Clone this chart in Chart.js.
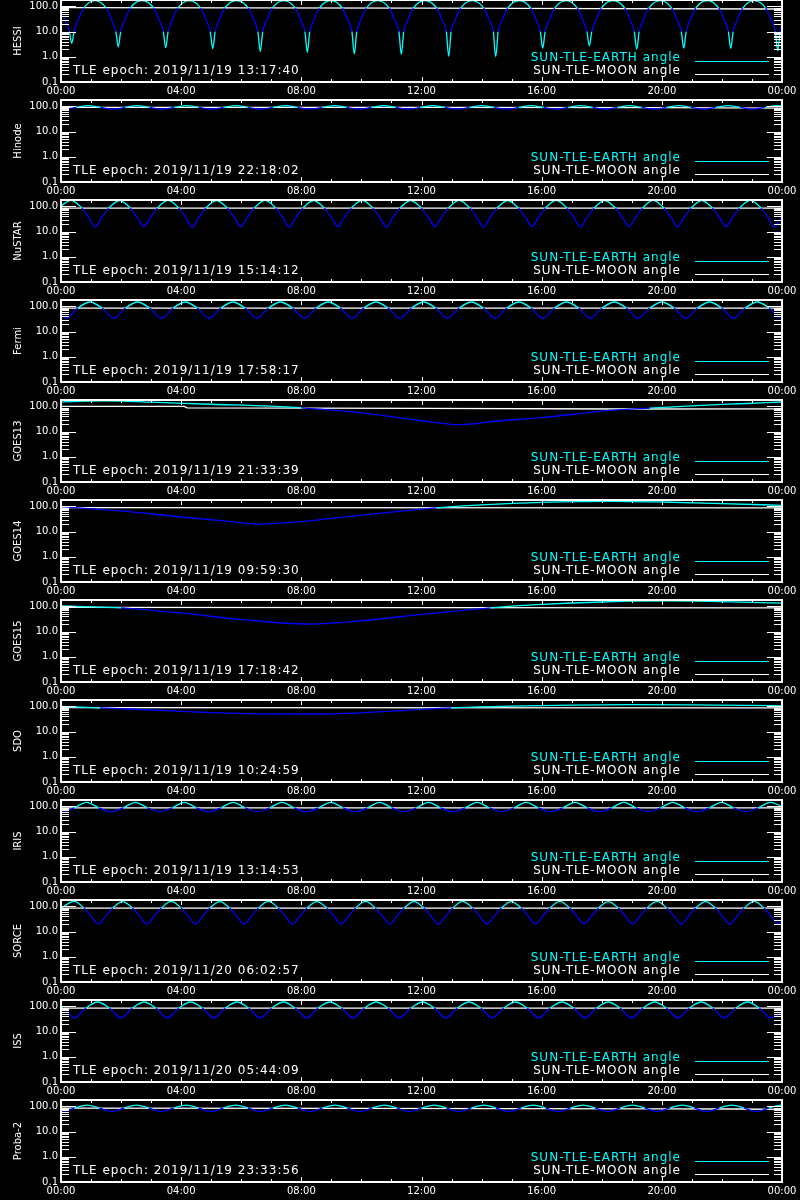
<!DOCTYPE html>
<html>
<head>
<meta charset="utf-8">
<script src="https://cdn.jsdelivr.net/npm/chart.js@4.4.0/dist/chart.umd.min.js"></script>
<style>
  body { margin: 0; background: #000; width: 800px; height: 1200px; overflow: hidden; position: relative; }
  canvas { position: absolute; left: 0; }
</style>
</head>
<body>
<script>
// axis ticks (hours since 00:00, log y)
const hourTicks = [0, 4, 8, 12, 16, 20, 24];
const hourLabels = ['00:00', '04:00', '08:00', '12:00', '16:00', '20:00', '00:00'];
const hourMinor = [1, 2, 3, 4, 5, 6, 7, 8, 9, 10, 11, 12, 13, 14, 15, 16, 17, 18, 19, 20, 21, 22, 23];
const yTicks = [0.1, 1, 10, 100];
const yLabels = ['0.1', '1.0', '10.0', '100.0'];
const yMajor = [1, 10, 100];
const yMinor = [0.2, 0.3, 0.4, 0.5, 0.6, 0.7, 0.8, 0.9, 2, 3, 4, 5, 6, 7, 8, 9, 20, 30, 40, 50, 60, 70, 80, 90];

const names = ['HESSI', 'Hinode', 'NuSTAR', 'Fermi', 'GOES13', 'GOES14', 'GOES15', 'SDO', 'IRIS', 'SORCE', 'ISS', 'Proba-2'];
const epochs = ['2019/11/19 13:17:40', '2019/11/19 22:18:02', '2019/11/19 15:14:12', '2019/11/19 17:58:17',
  '2019/11/19 21:33:39', '2019/11/19 09:59:30', '2019/11/19 17:18:42', '2019/11/19 10:24:59',
  '2019/11/19 13:14:53', '2019/11/20 06:02:57', '2019/11/20 05:44:09', '2019/11/19 23:33:56'];
// earth curve turns cyan above this
const thresholds = [86, 91, 86, 86, 86, 88, 88, 88, 88, 86, 86, 86];

// SUN-TLE-EARTH angle, per satellite
const hessiT = [0, 0.156, 0.276, 0.356, 0.436, 0.556, 0.756,
  1.132, 1.507, 1.707, 1.827, 1.907, 1.987, 2.107, 2.307,
  2.696, 3.085, 3.285, 3.405, 3.485, 3.565, 3.685, 3.885,
  4.268, 4.650, 4.850, 4.970, 5.050, 5.130, 5.250, 5.450,
  5.842, 6.234, 6.434, 6.554, 6.634, 6.714, 6.834, 7.034,
  7.417, 7.799, 7.999, 8.119, 8.199, 8.279, 8.399, 8.599,
  8.982, 9.364, 9.564, 9.684, 9.764, 9.844, 9.964, 10.164,
  10.546, 10.928, 11.128, 11.248, 11.328, 11.408, 11.528, 11.728,
  12.117, 12.506, 12.706, 12.826, 12.906, 12.986, 13.106, 13.306,
  13.689, 14.071, 14.271, 14.391, 14.471, 14.551, 14.671, 14.871,
  15.253, 15.635, 15.835, 15.955, 16.035, 16.115, 16.235, 16.435,
  16.811, 17.187, 17.387, 17.507, 17.587, 17.667, 17.787, 17.987,
  18.376, 18.765, 18.965, 19.085, 19.165, 19.245, 19.365, 19.565,
  19.947, 20.329, 20.529, 20.649, 20.729, 20.809, 20.929, 21.129,
  21.512, 21.894, 22.094, 22.214, 22.294, 22.374, 22.494, 22.694,
  23.076, 23.458, 23.658, 23.778, 23.858, 23.938, 24];
const hessiV = [72, 26, 10, 3.4, 10, 26, 86,
  170, 86, 26, 10, 2.5, 10, 26, 86,
  172, 86, 26, 10, 2.3, 10, 26, 86,
  170, 86, 26, 10, 2.1, 10, 26, 86,
  172, 86, 26, 10, 1.6, 10, 26, 86,
  170, 86, 26, 10, 1.5, 10, 26, 86,
  172, 86, 26, 10, 1.3, 10, 26, 86,
  170, 86, 26, 10, 1.25, 10, 26, 86,
  172, 86, 26, 10, 1.05, 10, 26, 86,
  170, 86, 26, 10, 1.0, 10, 26, 86,
  172, 86, 26, 10, 2.2, 10, 26, 86,
  170, 86, 26, 10, 2.7, 10, 26, 86,
  172, 86, 26, 10, 2.0, 10, 26, 86,
  170, 86, 26, 10, 2.2, 10, 26, 86,
  172, 86, 26, 10, 2.15, 10, 26, 86,
  170, 86, 26, 10, 1.7, 10, 24];

const hinodeT = [0,
  0.090, 0.500, 0.909, 1.319, 1.728, 2.138, 2.547, 2.956,
  3.366, 3.776, 4.185, 4.594, 5.004, 5.414, 5.823, 6.232,
  6.642, 7.052, 7.461, 7.870, 8.280, 8.690, 9.099, 9.508,
  9.918, 10.328, 10.737, 11.146, 11.556, 11.966, 12.375, 12.784,
  13.194, 13.604, 14.013, 14.422, 14.832, 15.242, 15.651, 16.060,
  16.470, 16.880, 17.289, 17.698, 18.108, 18.518, 18.927, 19.336,
  19.746, 20.156, 20.565, 20.974, 21.384, 21.794, 22.203, 22.612,
  23.022, 23.432, 23.841, 24];
const hinodeV = [79.5,
  79, 91, 108, 91, 79, 91, 108, 91,
  79, 91, 108, 91, 79, 91, 108, 91,
  79, 91, 108, 91, 79, 91, 108, 91,
  79, 91, 108, 91, 79, 91, 108, 91,
  79, 91, 108, 91, 79, 91, 108, 91,
  79, 91, 108, 91, 79, 91, 108, 91,
  79, 91, 108, 91, 79, 91, 108, 91,
  79, 91, 108, 104];

const nustarT = [0,
  0.333, 0.691, 0.941, 1.141, 1.341, 1.591,
  1.948, 2.306, 2.556, 2.756, 2.956, 3.206,
  3.563, 3.921, 4.171, 4.371, 4.571, 4.821,
  5.178, 5.536, 5.786, 5.986, 6.186, 6.436,
  6.793, 7.151, 7.401, 7.601, 7.801, 8.051,
  8.408, 8.766, 9.016, 9.216, 9.416, 9.666,
  10.023, 10.381, 10.631, 10.831, 11.031, 11.281,
  11.638, 11.996, 12.246, 12.446, 12.646, 12.896,
  13.253, 13.611, 13.861, 14.061, 14.261, 14.511,
  14.868, 15.226, 15.476, 15.676, 15.876, 16.126,
  16.483, 16.841, 17.091, 17.291, 17.491, 17.741,
  18.098, 18.456, 18.706, 18.906, 19.106, 19.356,
  19.713, 20.071, 20.321, 20.521, 20.721, 20.971,
  21.328, 21.686, 21.936, 22.136, 22.336, 22.586,
  22.943, 23.301, 23.551, 23.751, 23.951, 24];
const nustarV = [105,
  174, 86, 34, 15, 34, 86,
  172, 86, 34, 16, 34, 86,
  174, 86, 34, 15, 34, 86,
  172, 86, 34, 16, 34, 86,
  174, 86, 34, 15, 34, 86,
  172, 86, 34, 16, 34, 86,
  174, 86, 34, 15, 34, 86,
  172, 86, 34, 16, 34, 86,
  174, 86, 34, 15, 34, 86,
  172, 86, 34, 16, 34, 86,
  174, 86, 34, 15, 34, 86,
  172, 86, 34, 16, 34, 86,
  174, 86, 34, 15, 34, 86,
  172, 86, 34, 16, 34, 86,
  174, 86, 34, 15, 34, 42];

const fermiT = [0,
  0.17, 0.56, 0.963, 1.367, 1.757, 2.147, 2.550, 2.953,
  3.343, 3.733, 4.136, 4.540, 4.930, 5.320, 5.723, 6.126,
  6.516, 6.906, 7.309, 7.713, 8.103, 8.493, 8.896, 9.300,
  9.690, 10.080, 10.483, 10.886, 11.276, 11.666, 12.069, 12.473,
  12.863, 13.253, 13.656, 14.059, 14.449, 14.839, 15.242, 15.646,
  16.036, 16.426, 16.829, 17.232, 17.622, 18.012, 18.415, 18.819,
  19.209, 19.599, 20.002, 20.406, 20.796, 21.186, 21.589, 21.992,
  22.382, 22.772, 23.175, 23.579, 23.969, 24];
const fermiV = [48,
  34, 86, 150, 86, 34, 86, 150, 86,
  34, 86, 150, 86, 34, 86, 150, 86,
  34, 86, 150, 86, 34, 86, 150, 86,
  34, 86, 150, 86, 34, 86, 150, 86,
  34, 86, 150, 86, 34, 86, 150, 86,
  34, 86, 150, 86, 34, 86, 150, 86,
  34, 86, 150, 86, 34, 86, 150, 86,
  34, 86, 150, 86, 34, 35];

const goes13T = [0, 1.5, 3, 5, 7, 8, 10, 12, 13.3, 14.6, 16, 17.4, 18, 19.6, 21.3, 22.6, 24];
const goes13V = [152, 168, 148, 122, 102, 88, 56, 27, 19, 27, 36, 54, 65, 86, 110, 128, 150];

const goes14T = [0, 2, 4, 5.5, 6.6, 8, 10, 12, 12.5, 14, 16, 18.3, 20, 22, 24];
const goes14V = [98, 66, 38, 26, 20, 25, 45, 78, 88, 115, 145, 160, 150, 130, 110];

const goes15T = [0, 1, 2, 4, 6, 8.3, 10, 12, 14.3, 16, 18, 20.3, 22, 24];
const goes15V = [105, 96, 88, 55, 30, 20, 27, 48, 88, 120, 150, 165, 155, 135];

const sdoT = [0, 1.3, 3, 5, 6.5, 8.5, 10, 11.5, 13, 15, 17, 19, 21, 23, 24];
const sdoV = [100, 88, 72, 57, 51, 50, 56, 70, 88, 102, 112, 117, 116, 110, 106];

const irisT = [0,
  0.037, 0.44, 0.85, 1.26, 1.663, 2.07, 2.476, 2.88,
  3.289, 3.70, 4.102, 4.51, 4.915, 5.32, 5.728, 6.13,
  6.541, 6.95, 7.354, 7.76, 8.167, 8.57, 8.98, 9.39,
  9.793, 10.2, 10.606, 11.01, 11.419, 11.83, 12.232, 12.64,
  13.045, 13.45, 13.858, 14.26, 14.671, 15.08, 15.484, 15.89,
  16.297, 16.7, 17.11, 17.52, 17.923, 18.33, 18.736, 19.14,
  19.549, 19.96, 20.362, 20.77, 21.175, 21.58, 21.988, 22.39,
  22.801, 23.21, 23.614, 24];
const irisV = [64,
  62, 88, 145, 88, 62, 88, 145, 88,
  62, 88, 145, 88, 62, 88, 145, 88,
  62, 88, 145, 88, 62, 88, 145, 88,
  62, 88, 145, 88, 62, 88, 145, 88,
  62, 88, 145, 88, 62, 88, 145, 88,
  62, 88, 145, 88, 62, 88, 145, 88,
  62, 88, 145, 88, 62, 88, 145, 88,
  62, 88, 145, 100];

const sorceT = [0,
  0.434, 0.762, 0.992, 1.242, 1.492, 1.722,
  2.051, 2.379, 2.609, 2.859, 3.109, 3.339,
  3.668, 3.996, 4.226, 4.476, 4.726, 4.956,
  5.285, 5.613, 5.843, 6.093, 6.343, 6.573,
  6.902, 7.230, 7.460, 7.710, 7.960, 8.190,
  8.519, 8.847, 9.077, 9.327, 9.577, 9.807,
  10.136, 10.464, 10.694, 10.944, 11.194, 11.424,
  11.753, 12.081, 12.311, 12.561, 12.811, 13.041,
  13.370, 13.698, 13.928, 14.178, 14.428, 14.658,
  14.987, 15.315, 15.545, 15.795, 16.045, 16.275,
  16.604, 16.932, 17.162, 17.412, 17.662, 17.892,
  18.221, 18.549, 18.779, 19.029, 19.279, 19.509,
  19.838, 20.166, 20.396, 20.646, 20.896, 21.126,
  21.455, 21.783, 22.013, 22.263, 22.513, 22.743,
  23.072, 23.400, 23.630, 23.880, 24];
const sorceV = [86,
  158, 86, 42, 20, 42, 86,
  156, 86, 42, 20, 42, 86,
  158, 86, 42, 20, 42, 86,
  156, 86, 42, 20, 42, 86,
  158, 86, 42, 20, 42, 86,
  156, 86, 42, 20, 42, 86,
  158, 86, 42, 20, 42, 86,
  156, 86, 42, 20, 42, 86,
  158, 86, 42, 20, 42, 86,
  156, 86, 42, 20, 42, 86,
  158, 86, 42, 20, 42, 86,
  156, 86, 42, 20, 42, 86,
  158, 86, 42, 20, 42, 86,
  156, 86, 42, 20, 42, 86,
  158, 86, 42, 20, 30];

const issT = [0, 0.07,
  0.45, 0.83, 1.2225, 1.615, 1.995, 2.375, 2.7675, 3.16,
  3.54, 3.92, 4.3125, 4.705, 5.085, 5.465, 5.8575, 6.25,
  6.63, 7.01, 7.4025, 7.795, 8.175, 8.555, 8.9475, 9.34,
  9.72, 10.1, 10.4925, 10.885, 11.265, 11.645, 12.0375, 12.43,
  12.81, 13.19, 13.5825, 13.975, 14.355, 14.735, 15.1275, 15.52,
  15.9, 16.28, 16.6725, 17.065, 17.445, 17.825, 18.2175, 18.61,
  18.99, 19.37, 19.7625, 20.155, 20.535, 20.915, 21.3075, 21.7,
  22.08, 22.46, 22.8525, 23.245, 23.625, 24];
const issV = [92, 86,
  35, 86, 150, 86, 35, 86, 150, 86,
  35, 86, 150, 86, 35, 86, 150, 86,
  35, 86, 150, 86, 35, 86, 150, 86,
  35, 86, 150, 86, 35, 86, 150, 86,
  35, 86, 150, 86, 35, 86, 150, 86,
  35, 86, 150, 86, 35, 86, 150, 86,
  35, 86, 150, 86, 35, 86, 150, 86,
  35, 86, 150, 86, 35, 60];

const probaT = [0,
  0.037, 0.450, 0.863, 1.276, 1.688, 2.101, 2.514, 2.927,
  3.339, 3.752, 4.165, 4.578, 4.990, 5.403, 5.816, 6.229,
  6.641, 7.054, 7.467, 7.880, 8.292, 8.705, 9.118, 9.531,
  9.943, 10.356, 10.769, 11.182, 11.594, 12.007, 12.420, 12.833,
  13.245, 13.658, 14.071, 14.484, 14.896, 15.309, 15.722, 16.135,
  16.547, 16.960, 17.373, 17.786, 18.198, 18.611, 19.024, 19.437,
  19.849, 20.262, 20.675, 21.088, 21.500, 21.913, 22.326, 22.739,
  23.151, 23.564, 23.977, 24];
const probaV = [63,
  62, 86, 113, 86, 62, 86, 113, 86,
  62, 86, 113, 86, 62, 86, 113, 86,
  62, 86, 113, 86, 62, 86, 113, 86,
  62, 86, 113, 86, 62, 86, 113, 86,
  62, 86, 113, 86, 62, 86, 113, 86,
  62, 86, 113, 86, 62, 86, 113, 86,
  62, 86, 113, 86, 62, 86, 113, 86,
  62, 86, 113, 112];

// SUN-TLE-MOON angle, per satellite
const hessiMoonT = [0, 6, 12, 18, 24];
const hessiMoonV = [89, 87, 85, 82, 79];
const hinodeMoonT = [0, 12, 20, 24];
const hinodeMoonV = [91, 91, 90, 86];
const nustarMoonT = [0, 24];
const nustarMoonV = [86, 86];
const fermiMoonT = [0, 24];
const fermiMoonV = [86, 86];
const goes13MoonT = [0, 4.1, 4.2, 12, 18.8, 24];
const goes13MoonV = [100, 100, 87, 83, 79, 80];
const goes14MoonT = [0, 24];
const goes14MoonV = [90, 88];
const goes15MoonT = [0, 24];
const goes15MoonV = [92, 88];
const sdoMoonT = [0, 24];
const sdoMoonV = [90, 88];
const irisMoonT = [0, 24];
const irisMoonV = [88, 88];
const sorceMoonT = [0, 24];
const sorceMoonV = [86, 86];
const issMoonT = [0, 24];
const issMoonV = [86, 86];
const probaMoonT = [0, 10, 20, 22.5, 24];
const probaMoonV = [86, 83, 80, 79, 76];

const earthT = [hessiT, hinodeT, nustarT, fermiT, goes13T, goes14T, goes15T, sdoT, irisT, sorceT, issT, probaT];
const earthV = [hessiV, hinodeV, nustarV, fermiV, goes13V, goes14V, goes15V, sdoV, irisV, sorceV, issV, probaV];
const moonT = [hessiMoonT, hinodeMoonT, nustarMoonT, fermiMoonT, goes13MoonT, goes14MoonT, goes15MoonT, sdoMoonT, irisMoonT, sorceMoonT, issMoonT, probaMoonT];
const moonV = [hessiMoonV, hinodeMoonV, nustarMoonV, fermiMoonV, goes13MoonV, goes14MoonV, goes15MoonV, sdoMoonV, irisMoonV, sorceMoonV, issMoonV, probaMoonV];

const CYAN = '#00ffff';
const BLUE = '#0000ff';
const WHITE = '#ffffff';
const FONT = 'DejaVu Sans';

function toPts(t, v) {
  const n = Math.min(t.length, v.length);
  const out = [];
  for (let i = 0; i < n; i++) out.push({x: t[i], y: v[i]});
  return out;
}

// frame, inward ticks, legend and epoch text
const idlFrame = {
  id: 'idlFrame',
  afterDraw(chart, args, o) {
    const {ctx, chartArea: a, scales: {x, y}} = chart;
    ctx.save();
    ctx.strokeStyle = WHITE;
    ctx.lineWidth = 1;
    ctx.beginPath();
    const hl = (py, len) => {
      py = Math.round(py) + 0.5;
      ctx.moveTo(a.left, py); ctx.lineTo(a.left + len, py);
      ctx.moveTo(a.right, py); ctx.lineTo(a.right - len, py);
    };
    yMinor.forEach(v => hl(y.getPixelForValue(v), 8));
    yMajor.forEach(v => hl(y.getPixelForValue(v), 15));
    hourMinor.forEach(h => {
      const px = Math.round(x.getPixelForValue(h)) + 0.5;
      const len = h % 4 ? 3 : 5;
      ctx.moveTo(px, a.top); ctx.lineTo(px, a.top + len);
      ctx.moveTo(px, a.bottom); ctx.lineTo(px, a.bottom - len);
    });
    ctx.stroke();
    ctx.lineWidth = 2;
    ctx.strokeRect(a.left, a.top, a.right - a.left, a.bottom - a.top);

    ctx.font = '12px "' + FONT + '"';
    ctx.letterSpacing = '1px';
    ctx.textBaseline = 'middle';
    ctx.fillStyle = WHITE;
    ctx.textAlign = 'left';
    ctx.fillText('TLE epoch: ' + o.epoch, 73, a.top + 70.7);
    ctx.textAlign = 'right';
    ctx.fillStyle = CYAN;
    ctx.fillText('SUN-TLE-EARTH angle', 681, a.top + 57.7);
    ctx.fillStyle = WHITE;
    ctx.fillText('SUN-TLE-MOON angle', 681, a.top + 70.7);
    ctx.lineWidth = 1;
    ctx.strokeStyle = CYAN;
    ctx.beginPath(); ctx.moveTo(695, a.top + 61.5); ctx.lineTo(769, a.top + 61.5); ctx.stroke();
    ctx.strokeStyle = WHITE;
    ctx.beginPath(); ctx.moveTo(695, a.top + 74.5); ctx.lineTo(769, a.top + 74.5); ctx.stroke();
    ctx.restore();
  }
};

for (let k = 0; k < names.length; k++) {
  const cv = document.createElement('canvas');
  cv.width = 800; cv.height = 100;
  cv.style.top = (100 * k - 2) + 'px';
  document.body.appendChild(cv);
  const thr = thresholds[k];

  new Chart(cv, {
    type: 'line',
    data: {
      datasets: [
        {
          data: toPts(earthT[k], earthV[k]),
          borderColor: CYAN,
          borderWidth: 1.3,
          pointRadius: 0,
          cubicInterpolationMode: 'monotone',
          segment: {
            borderColor: c => {
              const lo = Math.min(c.p0.parsed.y, c.p1.parsed.y);
              return (lo >= thr || lo < 4) ? CYAN : BLUE;
            }
          }
        },
        {
          data: toPts(moonT[k], moonV[k]),
          borderColor: WHITE,
          borderWidth: 1.3,
          pointRadius: 0,
          tension: 0
        }
      ]
    },
    options: {
      responsive: false,
      animation: false,
      devicePixelRatio: 1,
      events: [],
      layout: { padding: { left: 0, right: 18, top: 2, bottom: 0 } },
      plugins: {
        legend: { display: false },
        tooltip: { enabled: false },
        idlFrame: { epoch: epochs[k] }
      },
      scales: {
        x: {
          type: 'linear', min: 0, max: 24,
          grid: { display: false, drawTicks: false },
          border: { display: false },
          afterBuildTicks: s => { s.ticks = hourTicks.map(v => ({value: v})); },
          afterFit: s => { s.height = 16; s.paddingLeft = 0; s.paddingRight = 0; },
          ticks: {
            color: WHITE, font: { family: FONT, size: 10 }, padding: 3,
            maxRotation: 0, autoSkip: false,
            callback: (v, i) => hourLabels[i]
          }
        },
        y: {
          type: 'logarithmic', min: 0.1, max: 180,
          grid: { display: false, drawTicks: false },
          border: { display: false },
          afterBuildTicks: s => { s.ticks = yTicks.map(v => ({value: v})); },
          afterFit: s => { s.width = 61; s.paddingTop = 0; s.paddingBottom = 0; },
          ticks: {
            color: WHITE, font: { family: FONT, size: 10 }, padding: 3,
            callback: v => yLabels[yTicks.indexOf(v)]
          },
          title: {
            display: true, text: names[k], color: WHITE,
            font: { family: FONT, size: 10 }, padding: { top: 12, bottom: 0 }
          }
        }
      }
    },
    plugins: [idlFrame]
  });
}
</script>
</body>
</html>
